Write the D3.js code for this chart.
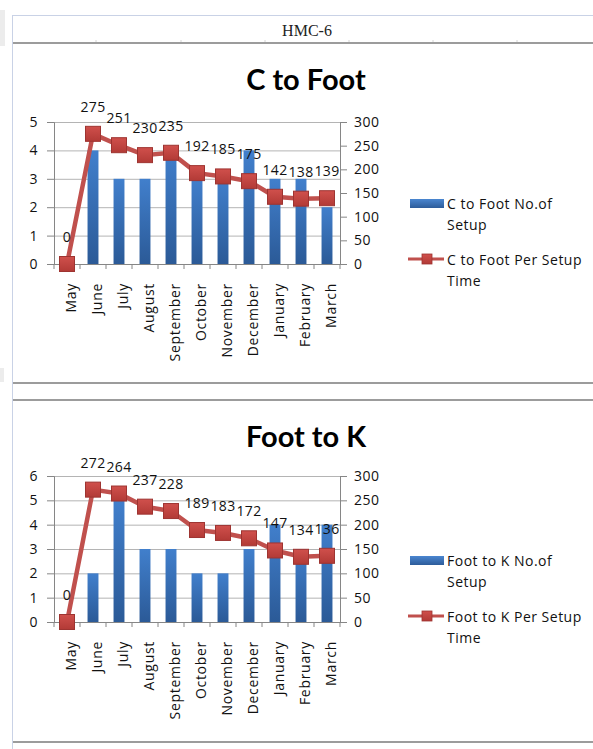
<!DOCTYPE html>
<html>
<head>
<meta charset="utf-8">
<script src="https://cdn.jsdelivr.net/npm/d3@7"></script>
<style>
  body { margin: 0; background: #fff; }
  text { font-family: "Open Sans", sans-serif; }
</style>
</head>
<body>
<script>
// months on the x axis
const months = ['May', 'June', 'July', 'August', 'September', 'October',
  'November', 'December', 'January', 'February', 'March'];

// C to Foot
const cToFootSetups = [0, 4, 3, 3, 4, 3, 3, 4, 3, 3, 2];
const cToFootTime = [0, 275, 251, 230, 235, 192, 185, 175, 142, 138, 139];

// Foot to K
const footToKSetups = [0, 2, 5, 3, 3, 2, 2, 3, 4, 3, 4];
const footToKTime = [0, 272, 264, 237, 228, 189, 183, 172, 147, 134, 136];

const rightTicks = [0, 50, 100, 150, 200, 250, 300];

const W = 593, H = 749;
const svg = d3.select('body').append('svg').attr('width', W).attr('height', H);

const defs = svg.append('defs');
const blue = defs.append('linearGradient').attr('id', 'barFill')
  .attr('x1', 0).attr('y1', 0).attr('x2', 0).attr('y2', 1);
blue.append('stop').attr('offset', '0%').attr('stop-color', '#417fcc');
blue.append('stop').attr('offset', '100%').attr('stop-color', '#2b5a97');
const blueH = defs.append('linearGradient').attr('id', 'legFill')
  .attr('x1', 0).attr('y1', 0).attr('x2', 0).attr('y2', 1);
blueH.append('stop').attr('offset', '0%').attr('stop-color', '#4a86d0');
blueH.append('stop').attr('offset', '100%').attr('stop-color', '#2d5c9a');
const red = defs.append('linearGradient').attr('id', 'mkFill')
  .attr('x1', 0).attr('y1', 0).attr('x2', 0).attr('y2', 1);
red.append('stop').attr('offset', '0%').attr('stop-color', '#d0504c');
red.append('stop').attr('offset', '100%').attr('stop-color', '#b23a36');

// sheet frame
svg.append('rect').attr('x', 0).attr('y', 10).attr('width', 5).attr('height', 36).attr('fill', '#ececec');
svg.append('rect').attr('x', 0).attr('y', 368).attr('width', 4).attr('height', 14).attr('fill', '#ececec');
svg.append('line').attr('x1', 12.5).attr('x2', 12.5).attr('y1', 15).attr('y2', H)
  .attr('stroke', '#c9d2e6');
svg.append('line').attr('x1', 12).attr('x2', W).attr('y1', 15.5).attr('y2', 15.5)
  .attr('stroke', '#c9d2e6');
svg.append('text').attr('x', 307).attr('y', 36).attr('text-anchor', 'middle')
  .style('font-family', '"Liberation Serif", serif').style('font-size', '16px')
  .attr('fill', '#222').text('HMC-6');
[96, 181, 265, 349, 433, 517].forEach(cx => {
  svg.append('line').attr('x1', cx).attr('x2', cx).attr('y1', 40).attr('y2', 43)
    .attr('stroke', '#d4d4d4');
});
[[13, 43], [13, 383], [13, 400], [13, 742]].forEach(([x0, yy]) => {
  svg.append('line').attr('x1', x0).attr('x2', W).attr('y1', yy).attr('y2', yy)
    .attr('stroke', '#9c9c9c').attr('stroke-width', 2);
});

function drawChart(cfg) {
  const g = svg.append('g');
  const left = 54, right = 340;
  const x = d3.scaleBand().domain(months).range([left, right]);
  const yL = d3.scaleLinear().domain([0, cfg.leftMax]).range([cfg.bottom, cfg.top]);
  const yR = d3.scaleLinear().domain([0, 300]).range([cfg.bottom, cfg.top]);
  const bw = x.bandwidth() * 0.42;
  const cx = d => x(d) + x.bandwidth() / 2;

  // title
  g.append('text').attr('x', 306).attr('y', cfg.titleY).attr('text-anchor', 'middle')
    .style('font-family', 'Lato, sans-serif').style('font-weight', 'bold')
    .style('font-size', '29px').attr('fill', '#000').text(cfg.title);

  // horizontal gridlines
  g.append('g').selectAll('line').data(yL.ticks(cfg.leftMax)).join('line')
    .attr('x1', left).attr('x2', right)
    .attr('y1', d => yL(d) + 0.5).attr('y2', d => yL(d) + 0.5)
    .attr('stroke', '#b4b4b4');

  // left axis
  const ax = g.append('g').attr('transform', `translate(${left},0)`)
    .call(d3.axisLeft(yL).ticks(cfg.leftMax).tickSizeOuter(0).tickSize(7).tickPadding(9));
  // right axis
  const ar = g.append('g').attr('transform', `translate(${right},0)`)
    .call(d3.axisRight(yR).tickValues(rightTicks).tickSizeOuter(0).tickSize(7).tickPadding(7));
  [ax, ar].forEach(a => {
    a.select('.domain').attr('stroke', '#868686');
    a.selectAll('.tick line').attr('stroke', '#868686');
    a.selectAll('.tick text').style('font-size', '14px').style('letter-spacing', '0.5px')
      .attr('fill', '#111');
  });

  // x axis
  g.append('line').attr('x1', left).attr('x2', right)
    .attr('y1', cfg.bottom + 0.5).attr('y2', cfg.bottom + 0.5).attr('stroke', '#868686');
  g.append('g').selectAll('line').data(months.concat(['end'])).join('line')
    .attr('x1', d => d === 'end' ? right : x(d)).attr('x2', d => d === 'end' ? right : x(d))
    .attr('y1', cfg.bottom).attr('y2', cfg.bottom + 5).attr('stroke', '#868686');
  g.append('g').selectAll('text').data(months).join('text')
    .attr('transform', d => `translate(${cx(d) + 3},${cfg.bottom + 19}) rotate(-90)`)
    .attr('text-anchor', 'end').attr('dominant-baseline', 'central')
    .style('font-size', '14px').style('letter-spacing', '0.7px').attr('fill', '#111')
    .text(d => d);

  // bars
  g.append('g').selectAll('rect').data(cfg.setups).join('rect')
    .attr('x', (d, i) => cx(months[i]) - bw / 2)
    .attr('y', d => yL(d))
    .attr('width', bw)
    .attr('height', d => cfg.bottom - yL(d))
    .attr('fill', 'url(#barFill)');

  // line
  const line = d3.line().x((d, i) => cx(months[i])).y(d => yR(d));
  g.append('path').datum(cfg.time).attr('d', line)
    .attr('fill', 'none').attr('stroke', '#c0504d').attr('stroke-width', 4.5)
    .attr('stroke-linejoin', 'round');
  g.append('g').selectAll('rect').data(cfg.time).join('rect')
    .attr('x', (d, i) => cx(months[i]) - 7.5).attr('y', d => yR(d) - 7.5)
    .attr('width', 15).attr('height', 15)
    .attr('fill', 'url(#mkFill)').attr('stroke', '#9e3431').attr('stroke-width', 1);

  // data labels
  g.append('g').selectAll('text').data(cfg.time).join('text')
    .attr('x', (d, i) => cx(months[i])).attr('y', d => yR(d) - 22)
    .attr('text-anchor', 'middle').style('font-size', '14px').style('letter-spacing', '0.4px')
    .attr('fill', '#111').text(d => d);

  // legend
  const ly = cfg.legendY;
  g.append('rect').attr('x', 410).attr('y', ly - 4).attr('width', 34).attr('height', 9)
    .attr('fill', 'url(#legFill)');
  const lt = (txt, yy) => g.append('text').attr('x', 447).attr('y', yy)
    .style('font-size', '14px').style('letter-spacing', '0.5px').attr('fill', '#111').text(txt);
  lt(cfg.title + ' No.of', ly + 6);
  lt('Setup', ly + 27);
  g.append('line').attr('x1', 408).attr('x2', 444).attr('y1', ly + 56).attr('y2', ly + 56)
    .attr('stroke', '#c0504d').attr('stroke-width', 3);
  g.append('rect').attr('x', 422).attr('y', ly + 51).attr('width', 10).attr('height', 10)
    .attr('fill', 'url(#mkFill)').attr('stroke', '#9e3431').attr('stroke-width', 0.8);
  lt(cfg.title + ' Per Setup', ly + 62);
  lt('Time', ly + 83);
}

drawChart({
  title: 'C to Foot', titleY: 90, top: 122, bottom: 264, leftMax: 5,
  setups: cToFootSetups, time: cToFootTime, legendY: 203
});
drawChart({
  title: 'Foot to K', titleY: 447, top: 476, bottom: 622, leftMax: 6,
  setups: footToKSetups, time: footToKTime, legendY: 560
});
</script>
</body>
</html>
